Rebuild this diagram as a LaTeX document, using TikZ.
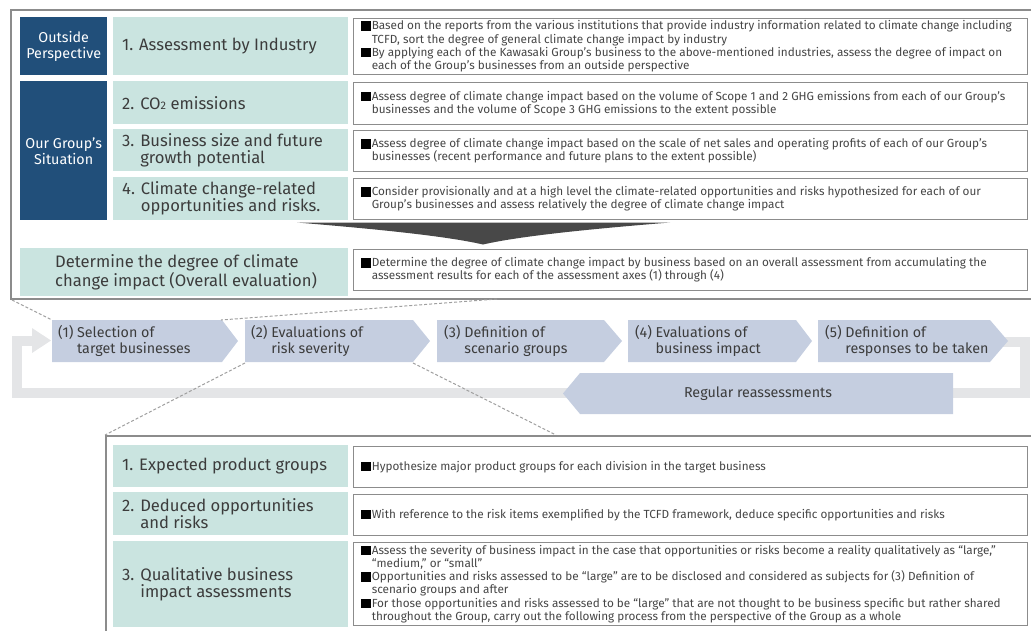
\documentclass[tikz,border=0pt]{standalone}
\usepackage{fontspec}
\setmainfont{Fira Sans}
\usetikzlibrary{calc}
\definecolor{knavy}{RGB}{33,79,122}
\definecolor{kteal}{RGB}{202,228,224}
\definecolor{kchev}{RGB}{197,206,224}
\definecolor{kloop}{RGB}{228,229,231}
\definecolor{kfun}{RGB}{72,72,72}
\definecolor{ktxt}{RGB}{60,60,60}
\definecolor{kdesc}{RGB}{70,70,70}
\definecolor{kframe}{RGB}{140,140,140}
\newcommand\kbul{\textcolor{black}{\rule[-0.08em]{0.85em}{0.8em}}\hspace{0.05em}}
\newcommand\kind{\hspace*{0.9em}}
\tikzset{
  panel/.style={draw=kframe, line width=1.6pt, fill=white, anchor=north west, inner sep=0},
  navybox/.style={fill=knavy, anchor=north west, inner sep=0},
  navytext/.style={text=white, align=center, font=\fontsize{14.3}{16}\selectfont, inner sep=0},
  tealbox/.style={fill=kteal, anchor=north west, inner sep=0},
  tealtext/.style={text=ktxt, align=left, anchor=west, font=\fontsize{16.6}{17}\selectfont, inner sep=0},
  descbox/.style={draw=kframe, line width=0.9pt, fill=white, anchor=north west, inner sep=0},
  desctext/.style={text=kdesc, align=left, anchor=west, font=\fontsize{11.75}{13.3}\selectfont, inner sep=0},
  chevtext/.style={text=ktxt, align=left, anchor=west, font=\fontsize{14.3}{15.5}\selectfont, inner sep=0},
  dashconn/.style={draw=gray!75, line width=1pt, dash pattern=on 3pt off 2pt},
  loopline/.style={draw=kloop, line width=10pt},
}
\begin{document}
\begin{tikzpicture}[x=1pt,y=-1pt]
\useasboundingbox (0,0) rectangle (1031,630);
% ---------------- loop behind the process row ----------------
\coordinate (lp1) at (1000,342);
\coordinate (lp2) at (1025,342);
\coordinate (lp3) at (1025,393);
\coordinate (lp4) at (17,393);
\coordinate (lp5) at (17,340.5);
\coordinate (lp6) at (36,340.5);
\draw[loopline] (lp1) -- (lp2) -- (lp3) -- (lp4) -- (lp5) -- (lp6);
\fill[kloop] (32,328) -- (51,340.5) -- (32,353) -- cycle;
% ---------------- top panel ----------------
\node[panel, minimum width=1040pt, minimum height=289pt] (P1) at (10,9) {};
\node[navybox, minimum width=87pt, minimum height=58pt] (n1) at (20,17) {};
\node[navybox, minimum width=87pt, minimum height=139pt] (n2) at (20,81) {};
\node[navytext] (n1t) at (n1.center) {Outside\\Perspective};
\node[navytext] (n2t) at (n2.center) {Our Group's\\Situation};
\node[tealbox, minimum width=235pt, minimum height=58pt] (r1) at (113,17) {};
\node[tealbox, minimum width=235pt, minimum height=43pt] (r2) at (113,81) {};
\node[tealbox, minimum width=235pt, minimum height=42pt] (r3) at (113,129) {};
\node[tealbox, minimum width=235pt, minimum height=43pt] (r4) at (113,177) {};
\node[tealbox, minimum width=328pt, minimum height=48pt] (r5) at (20,248) {};
\node[tealtext] (r1t) at ([xshift=9pt]r1.west) {1. Assessment by Industry};
\node[tealtext] (r2t) at ([xshift=9pt]r2.west) {2. CO{\fontsize{11}{11}\selectfont 2} emissions};
\node[tealtext] (r3t) at ([xshift=9pt]r3.west) {3. Business size and future\\\phantom{3. }growth potential};
\node[tealtext] (r4t) at ([xshift=9pt]r4.west) {4. Climate change-related\\\phantom{4. }opportunities and risks.};
\node[tealtext] (r5t) at ([xshift=35pt]r5.west) {Determine the degree of climate\\change impact (Overall evaluation)};
\node[descbox, minimum width=674pt, minimum height=56pt] (d1) at (353,18) {};
\node[descbox, minimum width=674pt, minimum height=42pt] (d2) at (353,82) {};
\node[descbox, minimum width=674pt, minimum height=41pt] (d3) at (353,130) {};
\node[descbox, minimum width=674pt, minimum height=41pt] (d4) at (353,178) {};
\node[descbox, minimum width=674pt, minimum height=41pt] (d5) at (353,249) {};
\node[desctext] (d1t) at ([xshift=8pt]d1.west) {\kbul Based on the reports from the various institutions that provide industry information related to climate change including\\\kind TCFD, sort the degree of general climate change impact by industry\\\kbul By applying each of the Kawasaki Group's business to the above-mentioned industries, assess the degree of impact on\\\kind each of the Group's businesses from an outside perspective};
\node[desctext] (d2t) at ([xshift=8pt]d2.west) {\kbul Assess degree of climate change impact based on the volume of Scope 1 and 2 GHG emissions from each of our Group's\\\kind businesses and the volume of Scope 3 GHG emissions to the extent possible};
\node[desctext] (d3t) at ([xshift=8pt]d3.west) {\kbul Assess degree of climate change impact based on the scale of net sales and operating profits of each of our Group's\\\kind businesses (recent performance and future plans to the extent possible)};
\node[desctext] (d4t) at ([xshift=8pt]d4.west) {\kbul Consider provisionally and at a high level the climate-related opportunities and risks hypothesized for each of our\\\kind Group's businesses and assess relatively the degree of climate change impact};
\node[desctext] (d5t) at ([xshift=8pt]d5.west) {\kbul Determine the degree of climate change impact by business based on an overall assessment from accumulating the\\\kind assessment results for each of the assessment axes (1) through (4)};
% funnel
\fill[kfun] (297,222.5) -- (670,222.5) .. controls (590,229) and (520,236) .. (483,244.5) .. controls (446,236) and (376,229) .. (297,222.5) -- cycle;
% ---------------- process chevrons ----------------
\fill[kchev] (52,320) -- (222,320) -- (238,341) -- (222,362) -- (52,362) -- cycle;
\fill[kchev] (245,320) -- (413,320) -- (430,341) -- (413,362) -- (245,362) -- cycle;
\fill[kchev] (437,320) -- (604,320) -- (622,341) -- (604,362) -- (437,362) -- cycle;
\fill[kchev] (628,320) -- (796,320) -- (812,341) -- (796,362) -- (628,362) -- cycle;
\fill[kchev] (818,320) -- (990,320) -- (1008,341) -- (990,362) -- (818,362) -- cycle;
\coordinate (c1) at (52,341);
\coordinate (c2) at (245,341);
\coordinate (c3) at (437,341);
\coordinate (c4) at (628,341);
\coordinate (c5) at (818,341);
\node[chevtext] (c1t) at ([xshift=6pt]c1) {(1) Selection of\\\phantom{(1) }target businesses};
\node[chevtext] (c2t) at ([xshift=6pt]c2) {(2) Evaluations of\\\phantom{(2) }risk severity};
\node[chevtext] (c3t) at ([xshift=7pt]c3) {(3) Definition of\\\phantom{(3) }scenario groups};
\node[chevtext] (c4t) at ([xshift=7pt]c4) {(4) Evaluations of\\\phantom{(4) }business impact};
\node[chevtext] (c5t) at ([xshift=7pt]c5) {(5) Definition of\\\phantom{(5) }responses to be taken};
\fill[kchev] (580,373) -- (953,373) -- (953,414) -- (580,414) -- (563,393.5) -- cycle;
\node[chevtext, anchor=center] (rr) at (758,393.5) {Regular reassessments};
% ---------------- dashed connectors ----------------
\coordinate (p1a) at (12,300);
\coordinate (p1b) at (497,299);
\coordinate (c1a) at (52,320);
\coordinate (c1b) at (221,320);
\coordinate (c2a) at (245,363);
\coordinate (c2b) at (413,363);
\coordinate (p2a) at (105,435);
\coordinate (p2b) at (556,435);
\draw[dashconn] (p1a) -- (c1a);
\draw[dashconn] (p1b) -- (c1b);
\draw[dashconn] (c2a) -- (p2a);
\draw[dashconn] (c2b) -- (p2b);
% ---------------- bottom panel ----------------
\node[panel, minimum width=940pt, minimum height=220pt] (P2) at (105,435) {};
\node[tealbox, minimum width=235pt, minimum height=42pt] (b1) at (113,445) {};
\node[tealbox, minimum width=235pt, minimum height=43pt] (b2) at (113,492) {};
\node[tealbox, minimum width=235pt, minimum height=86pt] (b3) at (113,541) {};
\node[tealtext] (b1t) at ([xshift=9pt]b1.west) {1. Expected product groups};
\node[tealtext] (b2t) at ([xshift=9pt]b2.west) {2. Deduced opportunities\\\phantom{2. }and risks};
\node[tealtext] (b3t) at ([xshift=9pt]b3.west) {3. Qualitative business\\\phantom{3. }impact assessments};
\node[descbox, minimum width=674pt, minimum height=41pt] (e1) at (353,446) {};
\node[descbox, minimum width=674pt, minimum height=41pt] (e2) at (353,494) {};
\node[descbox, minimum width=674pt, minimum height=83pt] (e3) at (353,542) {};
\node[desctext] (e1t) at ([xshift=8pt]e1.west) {\kbul Hypothesize major product groups for each division in the target business};
\node[desctext] (e2t) at ([xshift=8pt]e2.west) {\kbul With reference to the risk items exemplified by the TCFD framework, deduce specific opportunities and risks};
\node[desctext] (e3t) at ([xshift=8pt]e3.west) {\kbul Assess the severity of business impact in the case that opportunities or risks become a reality qualitatively as ``large,''\\\kind ``medium,'' or ``small''\\\kbul Opportunities and risks assessed to be ``large'' are to be disclosed and considered as subjects for (3) Definition of\\\kind scenario groups and after\\\kbul For those opportunities and risks assessed to be ``large'' that are not thought to be business specific but rather shared\\\kind throughout the Group, carry out the following process from the perspective of the Group as a whole};
\end{tikzpicture}
\end{document}
